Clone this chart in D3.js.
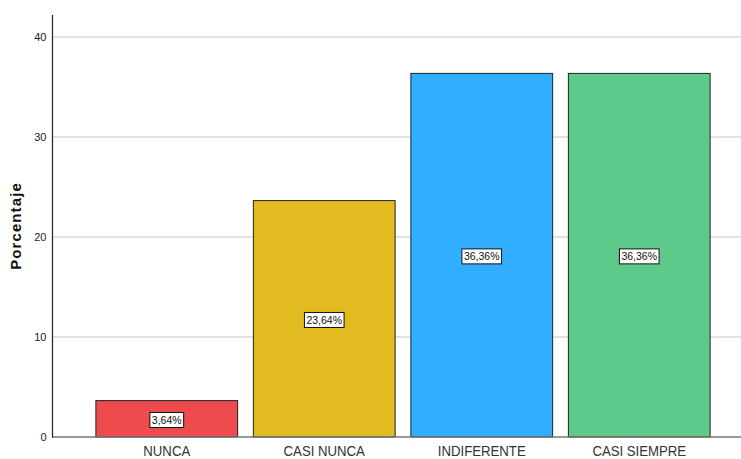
<!DOCTYPE html>
<html><head><meta charset="utf-8">
<script src="https://cdn.jsdelivr.net/npm/d3@7"></script>
<style>body{margin:0;background:#fff}svg{display:block}</style>
</head><body><div id="chart"></div>
<script>
const categories = ["NUNCA", "CASI NUNCA", "INDIFERENTE", "CASI SIEMPRE"];
const values = [3.64, 23.64, 36.36, 36.36];
const labels = ["3,64%", "23,64%", "36,36%", "36,36%"];
const colors = ["#EE4B4E", "#E1BB1F", "#31AEFF", "#5DCA8B"];
const yTicks = [0, 10, 20, 30, 40];

const W = 741, H = 459;
const svg = d3.select("#chart").append("svg").attr("width", W).attr("height", H);

const x = d3.scaleBand().domain(categories).range([88, 718]).paddingInner(0.1).paddingOuter(0.05);
const y = d3.scaleLinear().domain([0, 40]).range([437, 37]);

// gridlines
svg.append("g").selectAll("line").data(yTicks.filter(d => d > 0)).join("line")
  .attr("x1", 53).attr("x2", W).attr("y1", d => y(d)).attr("y2", d => y(d))
  .attr("stroke", "#c4c4c4").attr("stroke-width", 1);

// bars
svg.append("g").selectAll("rect").data(values).join("rect")
  .attr("x", (d, i) => x(categories[i]))
  .attr("y", d => y(d))
  .attr("width", x.bandwidth())
  .attr("height", d => y(0) - y(d))
  .attr("fill", (d, i) => colors[i])
  .attr("stroke", "#222").attr("stroke-width", 1);

// x axis line
svg.append("line").attr("x1", 52).attr("x2", W).attr("y1", y(0)).attr("y2", y(0))
  .attr("stroke", "#777").attr("stroke-width", 1.5);

// y axis
const yAxis = d3.axisLeft(y).tickValues(yTicks).tickSize(0).tickPadding(6);
const yg = svg.append("g").attr("transform", "translate(52.5,0)").call(yAxis);
yg.select(".domain").remove();
yg.selectAll("text").attr("font-family", "Arial, 'Liberation Sans', sans-serif").attr("font-size", 11).attr("fill", "#222");
svg.append("line").attr("x1", 52.5).attr("x2", 52.5).attr("y1", 15).attr("y2", 437.5)
  .attr("stroke", "#222").attr("stroke-width", 1.2);

// x labels
const xAxis = d3.axisBottom(x).tickSize(0).tickPadding(8);
const xg = svg.append("g").attr("transform", `translate(0,${y(0)})`).call(xAxis);
xg.select(".domain").remove();
xg.selectAll("text").attr("font-family", "Arial, 'Liberation Sans', sans-serif")
  .attr("font-size", 15).attr("fill", "#333").attr("transform", "scale(0.88,1)");

// y title
svg.append("text").attr("transform", "translate(21,226) rotate(-90)")
  .attr("text-anchor", "middle").attr("font-family", "Arial, 'Liberation Sans', sans-serif")
  .attr("font-size", 15).attr("font-weight", "bold").attr("letter-spacing", 1.1).attr("fill", "#111").text("Porcentaje");

// value labels
const lg = svg.append("g").selectAll("g").data(values).join("g")
  .attr("transform", (d, i) => `translate(${x(categories[i]) + x.bandwidth() / 2},${(y(d) + y(0)) / 2 + 1.5})`);
lg.append("text").attr("text-anchor", "middle").attr("dy", "0.35em")
  .attr("font-family", "Arial, 'Liberation Sans', sans-serif").attr("font-size", 10.5).attr("fill", "#111")
  .text((d, i) => labels[i]);
lg.each(function() {
  const g = d3.select(this);
  const b = g.select("text").node().getBBox();
  g.insert("rect", "text").attr("x", b.x - 2).attr("y", b.y - 1.5).attr("width", b.width + 4).attr("height", b.height + 3)
    .attr("fill", "#fff").attr("stroke", "#111").attr("stroke-width", 1);
});
</script></body></html>
